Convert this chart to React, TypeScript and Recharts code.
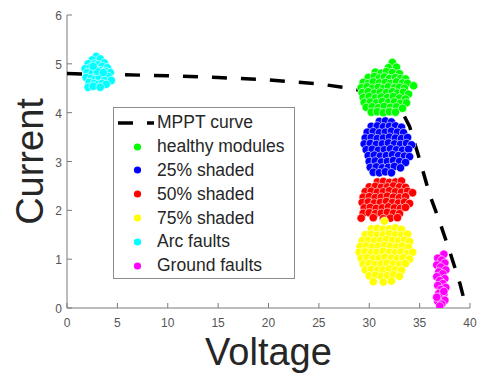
import { ScatterChart, Scatter, XAxis, YAxis, Legend, Label } from 'recharts';

// Axis ticks
const xTicks = [0, 5, 10, 15, 20, 25, 30, 35, 40];
const yTicks = [0, 1, 2, 3, 4, 5, 6];

// MPPT curve
const mpptCurve = [
  { x: 0, y: 4.8 }, { x: 5, y: 4.78 }, { x: 10, y: 4.755 }, { x: 15, y: 4.72 },
  { x: 20, y: 4.67 }, { x: 25, y: 4.59 }, { x: 28, y: 4.5 }, { x: 30, y: 4.42 },
  { x: 32, y: 4.27 }, { x: 33, y: 4.12 }, { x: 34, y: 3.72 }, { x: 35, y: 3.04 },
  { x: 36, y: 2.32 }, { x: 37, y: 1.76 }, { x: 38, y: 1.15 }, { x: 39, y: 0.5 },
  { x: 39.5, y: 0.1 },
];

const healthy = [
  { x: 32.3, y: 5.03 },
  { x: 31.9, y: 4.92 }, { x: 32.7, y: 4.93 },
  { x: 30.6, y: 4.83 }, { x: 31.2, y: 4.81 }, { x: 31.7, y: 4.84 }, { x: 32.3, y: 4.82 }, { x: 33.0, y: 4.8 },
  { x: 29.9, y: 4.72 }, { x: 30.5, y: 4.74 }, { x: 31.0, y: 4.71 }, { x: 31.5, y: 4.73 }, { x: 32.0, y: 4.7 },
  { x: 32.6, y: 4.72 }, { x: 33.1, y: 4.7 }, { x: 33.6, y: 4.69 },
  { x: 29.4, y: 4.62 }, { x: 29.9, y: 4.6 }, { x: 30.4, y: 4.63 }, { x: 31.0, y: 4.61 }, { x: 31.6, y: 4.62 },
  { x: 32.1, y: 4.6 }, { x: 32.7, y: 4.63 }, { x: 33.3, y: 4.61 }, { x: 33.8, y: 4.6 },
  { x: 29.2, y: 4.51 }, { x: 29.8, y: 4.53 }, { x: 30.3, y: 4.5 }, { x: 30.9, y: 4.52 }, { x: 31.4, y: 4.5 },
  { x: 31.9, y: 4.53 }, { x: 32.5, y: 4.51 }, { x: 33.0, y: 4.52 }, { x: 33.5, y: 4.5 }, { x: 34.4, y: 4.55 },
  { x: 29.3, y: 4.41 }, { x: 29.9, y: 4.43 }, { x: 30.5, y: 4.4 }, { x: 31.1, y: 4.42 }, { x: 31.7, y: 4.41 },
  { x: 32.3, y: 4.43 }, { x: 32.8, y: 4.4 }, { x: 33.4, y: 4.42 }, { x: 33.9, y: 4.38 },
  { x: 29.4, y: 4.31 }, { x: 30.0, y: 4.33 }, { x: 30.6, y: 4.3 }, { x: 31.2, y: 4.32 }, { x: 31.8, y: 4.31 },
  { x: 32.4, y: 4.33 }, { x: 33.0, y: 4.3 }, { x: 33.6, y: 4.28 },
  { x: 29.5, y: 4.21 }, { x: 30.1, y: 4.22 }, { x: 30.7, y: 4.2 }, { x: 31.3, y: 4.23 }, { x: 31.9, y: 4.21 },
  { x: 32.5, y: 4.22 }, { x: 33.1, y: 4.19 }, { x: 33.7, y: 4.2 },
  { x: 29.7, y: 4.11 }, { x: 30.3, y: 4.12 }, { x: 30.9, y: 4.1 }, { x: 31.5, y: 4.13 }, { x: 32.1, y: 4.11 },
  { x: 32.7, y: 4.12 }, { x: 33.3, y: 4.09 },
  { x: 30.2, y: 4.01 }, { x: 30.8, y: 4.02 }, { x: 31.4, y: 4.0 }, { x: 32.0, y: 4.02 }, { x: 32.6, y: 4.01 },
];

const shaded25 = [
  { x: 31.0, y: 3.82 }, { x: 31.6, y: 3.83 }, { x: 32.2, y: 3.81 },
  { x: 30.2, y: 3.72 }, { x: 30.8, y: 3.73 }, { x: 31.4, y: 3.71 }, { x: 32.0, y: 3.72 }, { x: 32.6, y: 3.73 }, { x: 33.2, y: 3.7 },
  { x: 29.8, y: 3.6 }, { x: 30.4, y: 3.61 }, { x: 31.0, y: 3.59 }, { x: 31.6, y: 3.6 }, { x: 32.2, y: 3.62 },
  { x: 32.8, y: 3.6 }, { x: 33.4, y: 3.59 },
  { x: 29.6, y: 3.48 }, { x: 30.2, y: 3.49 }, { x: 30.8, y: 3.47 }, { x: 31.4, y: 3.48 }, { x: 32.0, y: 3.5 },
  { x: 32.6, y: 3.48 }, { x: 33.2, y: 3.47 }, { x: 33.8, y: 3.49 },
  { x: 29.5, y: 3.36 }, { x: 30.1, y: 3.37 }, { x: 30.7, y: 3.35 }, { x: 31.3, y: 3.36 }, { x: 31.9, y: 3.38 },
  { x: 32.5, y: 3.36 }, { x: 33.1, y: 3.35 }, { x: 33.7, y: 3.37 }, { x: 34.2, y: 3.34 },
  { x: 29.7, y: 3.24 }, { x: 30.3, y: 3.25 }, { x: 30.9, y: 3.23 }, { x: 31.5, y: 3.24 }, { x: 32.1, y: 3.26 },
  { x: 32.7, y: 3.24 }, { x: 33.3, y: 3.23 }, { x: 33.9, y: 3.25 },
  { x: 29.9, y: 3.12 }, { x: 30.5, y: 3.13 }, { x: 31.1, y: 3.11 }, { x: 31.7, y: 3.12 }, { x: 32.3, y: 3.14 },
  { x: 32.9, y: 3.12 }, { x: 33.5, y: 3.11 }, { x: 34.0, y: 3.1 },
  { x: 30.0, y: 3.0 }, { x: 30.6, y: 3.01 }, { x: 31.2, y: 2.99 }, { x: 31.8, y: 3.0 }, { x: 32.4, y: 3.02 },
  { x: 33.0, y: 3.0 }, { x: 33.6, y: 2.98 },
  { x: 30.1, y: 2.88 }, { x: 30.7, y: 2.89 }, { x: 31.3, y: 2.87 }, { x: 31.9, y: 2.88 }, { x: 32.5, y: 2.9 }, { x: 33.1, y: 2.87 },
  { x: 30.4, y: 2.78 }, { x: 31.0, y: 2.77 }, { x: 31.6, y: 2.79 }, { x: 32.2, y: 2.77 },
];

const shaded50 = [
  { x: 30.8, y: 2.58 }, { x: 31.4, y: 2.59 }, { x: 32.0, y: 2.57 }, { x: 32.6, y: 2.58 }, { x: 33.2, y: 2.6 },
  { x: 30.0, y: 2.48 }, { x: 30.6, y: 2.49 }, { x: 31.2, y: 2.47 }, { x: 31.8, y: 2.48 }, { x: 32.4, y: 2.5 },
  { x: 33.0, y: 2.48 }, { x: 33.6, y: 2.47 },
  { x: 29.6, y: 2.38 }, { x: 30.2, y: 2.39 }, { x: 30.8, y: 2.37 }, { x: 31.4, y: 2.38 }, { x: 32.0, y: 2.4 },
  { x: 32.6, y: 2.38 }, { x: 33.2, y: 2.37 }, { x: 33.8, y: 2.39 }, { x: 34.3, y: 2.36 },
  { x: 29.4, y: 2.27 }, { x: 30.0, y: 2.28 }, { x: 30.6, y: 2.26 }, { x: 31.2, y: 2.27 }, { x: 31.8, y: 2.29 },
  { x: 32.4, y: 2.27 }, { x: 33.0, y: 2.26 }, { x: 33.6, y: 2.28 },
  { x: 29.3, y: 2.16 }, { x: 29.9, y: 2.17 }, { x: 30.5, y: 2.15 }, { x: 31.1, y: 2.16 }, { x: 31.7, y: 2.18 },
  { x: 32.3, y: 2.16 }, { x: 32.9, y: 2.15 }, { x: 33.5, y: 2.17 }, { x: 34.0, y: 2.14 },
  { x: 29.5, y: 2.05 }, { x: 30.1, y: 2.06 }, { x: 30.7, y: 2.04 }, { x: 31.3, y: 2.05 }, { x: 31.9, y: 2.07 },
  { x: 32.5, y: 2.05 }, { x: 33.1, y: 2.04 }, { x: 33.6, y: 2.06 },
  { x: 29.4, y: 1.94 }, { x: 30.0, y: 1.95 }, { x: 30.6, y: 1.93 }, { x: 31.2, y: 1.94 }, { x: 31.8, y: 1.96 },
  { x: 32.4, y: 1.94 }, { x: 33.0, y: 1.93 },
  { x: 29.2, y: 1.84 }, { x: 30.4, y: 1.85 }, { x: 31.4, y: 1.83 }, { x: 32.1, y: 1.84 }, { x: 32.8, y: 1.85 },
];

const shaded75 = [
  { x: 31.5, y: 1.78 },
  { x: 30.2, y: 1.62 }, { x: 30.8, y: 1.63 }, { x: 31.4, y: 1.61 }, { x: 32.0, y: 1.62 }, { x: 32.6, y: 1.64 }, { x: 33.2, y: 1.61 },
  { x: 29.6, y: 1.5 }, { x: 30.2, y: 1.51 }, { x: 30.8, y: 1.49 }, { x: 31.4, y: 1.5 }, { x: 32.0, y: 1.52 },
  { x: 32.6, y: 1.5 }, { x: 33.2, y: 1.49 }, { x: 33.8, y: 1.51 },
  { x: 29.3, y: 1.38 }, { x: 29.9, y: 1.39 }, { x: 30.5, y: 1.37 }, { x: 31.1, y: 1.38 }, { x: 31.7, y: 1.4 },
  { x: 32.3, y: 1.38 }, { x: 32.9, y: 1.37 }, { x: 33.5, y: 1.39 }, { x: 34.0, y: 1.36 },
  { x: 29.1, y: 1.26 }, { x: 29.7, y: 1.27 }, { x: 30.3, y: 1.25 }, { x: 30.9, y: 1.26 }, { x: 31.5, y: 1.28 },
  { x: 32.1, y: 1.26 }, { x: 32.7, y: 1.25 }, { x: 33.3, y: 1.27 }, { x: 33.9, y: 1.24 },
  { x: 29.0, y: 1.14 }, { x: 29.6, y: 1.15 }, { x: 30.2, y: 1.13 }, { x: 30.8, y: 1.14 }, { x: 31.4, y: 1.16 },
  { x: 32.0, y: 1.14 }, { x: 32.6, y: 1.13 }, { x: 33.2, y: 1.15 }, { x: 33.8, y: 1.12 }, { x: 34.3, y: 1.14 },
  { x: 29.2, y: 1.02 }, { x: 29.8, y: 1.03 }, { x: 30.4, y: 1.01 }, { x: 31.0, y: 1.02 }, { x: 31.6, y: 1.04 },
  { x: 32.2, y: 1.02 }, { x: 32.8, y: 1.01 }, { x: 33.4, y: 1.03 }, { x: 34.0, y: 1.0 },
  { x: 29.4, y: 0.9 }, { x: 30.0, y: 0.91 }, { x: 30.6, y: 0.89 }, { x: 31.2, y: 0.9 }, { x: 31.8, y: 0.92 },
  { x: 32.4, y: 0.9 }, { x: 33.0, y: 0.89 }, { x: 33.6, y: 0.91 },
  { x: 29.6, y: 0.78 }, { x: 30.2, y: 0.79 }, { x: 30.8, y: 0.77 }, { x: 31.4, y: 0.78 }, { x: 32.0, y: 0.8 },
  { x: 32.6, y: 0.78 }, { x: 33.2, y: 0.77 },
  { x: 30.0, y: 0.66 }, { x: 30.6, y: 0.67 }, { x: 31.2, y: 0.65 }, { x: 31.8, y: 0.66 }, { x: 32.4, y: 0.68 }, { x: 33.0, y: 0.65 },
  { x: 30.4, y: 0.54 }, { x: 31.4, y: 0.53 }, { x: 32.2, y: 0.55 },
];

const arcFaults = [
  { x: 2.9, y: 5.15 }, { x: 3.3, y: 5.1 }, { x: 2.5, y: 5.08 }, { x: 3.7, y: 5.02 }, { x: 2.1, y: 5.0 },
  { x: 2.7, y: 5.0 }, { x: 3.1, y: 4.98 }, { x: 3.5, y: 4.95 }, { x: 4.0, y: 4.92 }, { x: 1.8, y: 4.9 },
  { x: 2.3, y: 4.92 }, { x: 2.9, y: 4.88 }, { x: 3.3, y: 4.86 }, { x: 3.8, y: 4.85 }, { x: 4.3, y: 4.82 },
  { x: 2.0, y: 4.82 }, { x: 2.5, y: 4.8 }, { x: 3.0, y: 4.78 }, { x: 3.5, y: 4.76 }, { x: 4.1, y: 4.74 },
  { x: 1.9, y: 4.72 }, { x: 2.4, y: 4.7 }, { x: 2.8, y: 4.68 }, { x: 3.2, y: 4.7 }, { x: 3.7, y: 4.66 },
  { x: 4.4, y: 4.66 }, { x: 2.2, y: 4.62 }, { x: 2.7, y: 4.6 }, { x: 3.1, y: 4.58 }, { x: 3.5, y: 4.6 },
  { x: 3.9, y: 4.58 }, { x: 2.1, y: 4.52 }, { x: 2.6, y: 4.54 }, { x: 3.3, y: 4.52 }, { x: 3.0, y: 4.85 },
  { x: 2.6, y: 4.95 }, { x: 3.6, y: 4.82 },
];

const groundFaults = [
  { x: 37.4, y: 1.1 }, { x: 36.8, y: 1.02 }, { x: 37.2, y: 0.98 }, { x: 37.5, y: 0.92 }, { x: 36.7, y: 0.88 },
  { x: 37.1, y: 0.84 }, { x: 37.6, y: 0.78 }, { x: 36.9, y: 0.74 }, { x: 37.3, y: 0.7 }, { x: 36.7, y: 0.64 },
  { x: 37.5, y: 0.6 }, { x: 37.0, y: 0.56 }, { x: 37.3, y: 0.5 }, { x: 36.8, y: 0.46 }, { x: 37.6, y: 0.42 },
  { x: 37.1, y: 0.38 }, { x: 36.9, y: 0.3 }, { x: 37.4, y: 0.28 }, { x: 37.0, y: 0.22 }, { x: 37.5, y: 0.16 },
  { x: 36.8, y: 0.14 }, { x: 37.2, y: 0.08 }, { x: 37.0, y: 0.04 }, { x: 37.4, y: 0.34 }, { x: 36.7, y: 0.22 },
];

const clusters = [
  { name: 'healthy modules', color: '#00ff00', data: healthy },
  { name: '25% shaded', color: '#0000ff', data: shaded25 },
  { name: '50% shaded', color: '#ff0000', data: shaded50 },
  { name: '75% shaded', color: '#ffff00', data: shaded75 },
  { name: 'Arc faults', color: '#00ffff', data: arcFaults },
  { name: 'Ground faults', color: '#ff00ff', data: groundFaults },
];

const legendOrder = ['MPPT curve', ...clusters.map((c) => c.name)];

const FONT = '"Liberation Sans", Arial, Helvetica, sans-serif';
const AXIS = '#7a7a7a';
const TICK_TEXT = '#555555';
const DASH = '15 14';

function BottomTick({ x, y, payload }: any) {
  return (
    <g>
      <line x1={x} x2={x} y1={y} y2={y - 5} stroke={AXIS} />
      <text x={x} y={y + 19} textAnchor="middle" fontSize={12} fill={TICK_TEXT} fontFamily={FONT}>
        {payload.value}
      </text>
    </g>
  );
}

function LeftTick({ x, y, payload }: any) {
  return (
    <g>
      <line x1={x} x2={x + 5} y1={y} y2={y} stroke={AXIS} />
      <text x={x - 5} y={y + 5} textAnchor="end" fontSize={12} fill={TICK_TEXT} fontFamily={FONT}>
        {payload.value}
      </text>
    </g>
  );
}

function TopTick({ x, y }: any) {
  return <line x1={x} x2={x} y1={y} y2={y + 5} stroke={AXIS} />;
}

function RightTick({ x, y }: any) {
  return <line x1={x} x2={x - 5} y1={y} y2={y} stroke={AXIS} />;
}

function Dot({ cx, cy, fill }: any) {
  return <circle cx={cx} cy={cy} r={4.2} fill={fill} stroke="#ffffff" strokeWidth={0.6} />;
}

function LegendBox({ payload }: any) {
  const items = (payload || [])
    .map((p: any) => ({ name: p.value, color: p.color }))
    .sort((a: any, b: any) => legendOrder.indexOf(a.name) - legendOrder.indexOf(b.name));
  return (
    <div
      style={{
        width: 180,
        height: 167,
        border: '1px solid #8c8c8c',
        background: '#fff',
        fontFamily: FONT,
        fontSize: 17.5,
        color: '#262626',
        paddingTop: 3,
        boxSizing: 'content-box',
      }}
    >
      {items.map((it: any) => (
        <div key={it.name} style={{ display: 'flex', alignItems: 'center', height: 23.8, whiteSpace: 'nowrap' }}>
          <svg width={43} height={20} style={{ flex: 'none' }}>
            {it.name === 'MPPT curve' ? (
              <line x1={4} x2={40} y1={10} y2={10} stroke="#000" strokeWidth={3.5} strokeDasharray={DASH} />
            ) : (
              <circle cx={23.5} cy={10} r={3.6} fill={it.color} />
            )}
          </svg>
          <span>{it.name}</span>
        </div>
      ))}
    </div>
  );
}

export default function App() {
  return (
    <div style={{ position: 'absolute', left: 0, top: 0 }}>
      <ScatterChart width={479} height={373} margin={{ top: 15, right: 9, bottom: 0, left: 0 }}>
        <XAxis
          type="number"
          dataKey="x"
          domain={[0, 40]}
          ticks={xTicks}
          interval={0}
          allowDataOverflow
          height={65}
          stroke={AXIS}
          tickLine={false}
          tickSize={0}
          tickMargin={0}
          tick={<BottomTick />}
        >
          <Label
            content={({ viewBox }: any) => (
              <text
                x={viewBox.x + viewBox.width / 2}
                y={viewBox.y + 57}
                textAnchor="middle"
                fontSize={38}
                fill="#262626"
                fontFamily={FONT}
              >
                Voltage
              </text>
            )}
          />
        </XAxis>
        <YAxis
          type="number"
          dataKey="y"
          domain={[0, 6]}
          ticks={yTicks}
          interval={0}
          allowDataOverflow
          width={67}
          stroke={AXIS}
          tickLine={false}
          tickSize={0}
          tickMargin={0}
          tick={<LeftTick />}
        >
          <Label
            content={({ viewBox }: any) => {
              const cx = viewBox.x + 43;
              const cy = viewBox.y + viewBox.height / 2;
              return (
                <text
                  x={cx}
                  y={cy}
                  transform={`rotate(-90 ${cx} ${cy})`}
                  textAnchor="middle"
                  fontSize={38}
                  fill="#262626"
                  fontFamily={FONT}
                >
                  Current
                </text>
              );
            }}
          />
        </YAxis>
        <XAxis
          xAxisId="top"
          orientation="top"
          type="number"
          domain={[0, 40]}
          ticks={xTicks}
          interval={0}
          allowDataOverflow
          height={0}
          stroke={AXIS}
          tickLine={false}
          tickSize={0}
          tickMargin={0}
          tick={<TopTick />}
        />
        <YAxis
          yAxisId="right"
          orientation="right"
          type="number"
          domain={[0, 6]}
          ticks={yTicks}
          interval={0}
          allowDataOverflow
          width={0}
          stroke={AXIS}
          tickLine={false}
          tickSize={0}
          tickMargin={0}
          tick={<RightTick />}
        />
        <Legend
          layout="vertical"
          align="center"
          verticalAlign="middle"
          itemSorter={null as any}
          wrapperStyle={{ left: 113, top: 107, width: 182 }}
          content={<LegendBox />}
        />
        <Scatter
          name="MPPT curve"
          data={mpptCurve}
          fill="#000000"
          line={{ stroke: '#000000', strokeWidth: 3.5, strokeDasharray: DASH }}
          lineType="joint"
          shape={() => <g />}
          legendType="line"
          isAnimationActive={false}
        />
        {clusters.map((c) => (
          <Scatter
            key={c.name}
            name={c.name}
            data={c.data}
            fill={c.color}
            shape={<Dot />}
            isAnimationActive={false}
          />
        ))}
      </ScatterChart>
    </div>
  );
}
